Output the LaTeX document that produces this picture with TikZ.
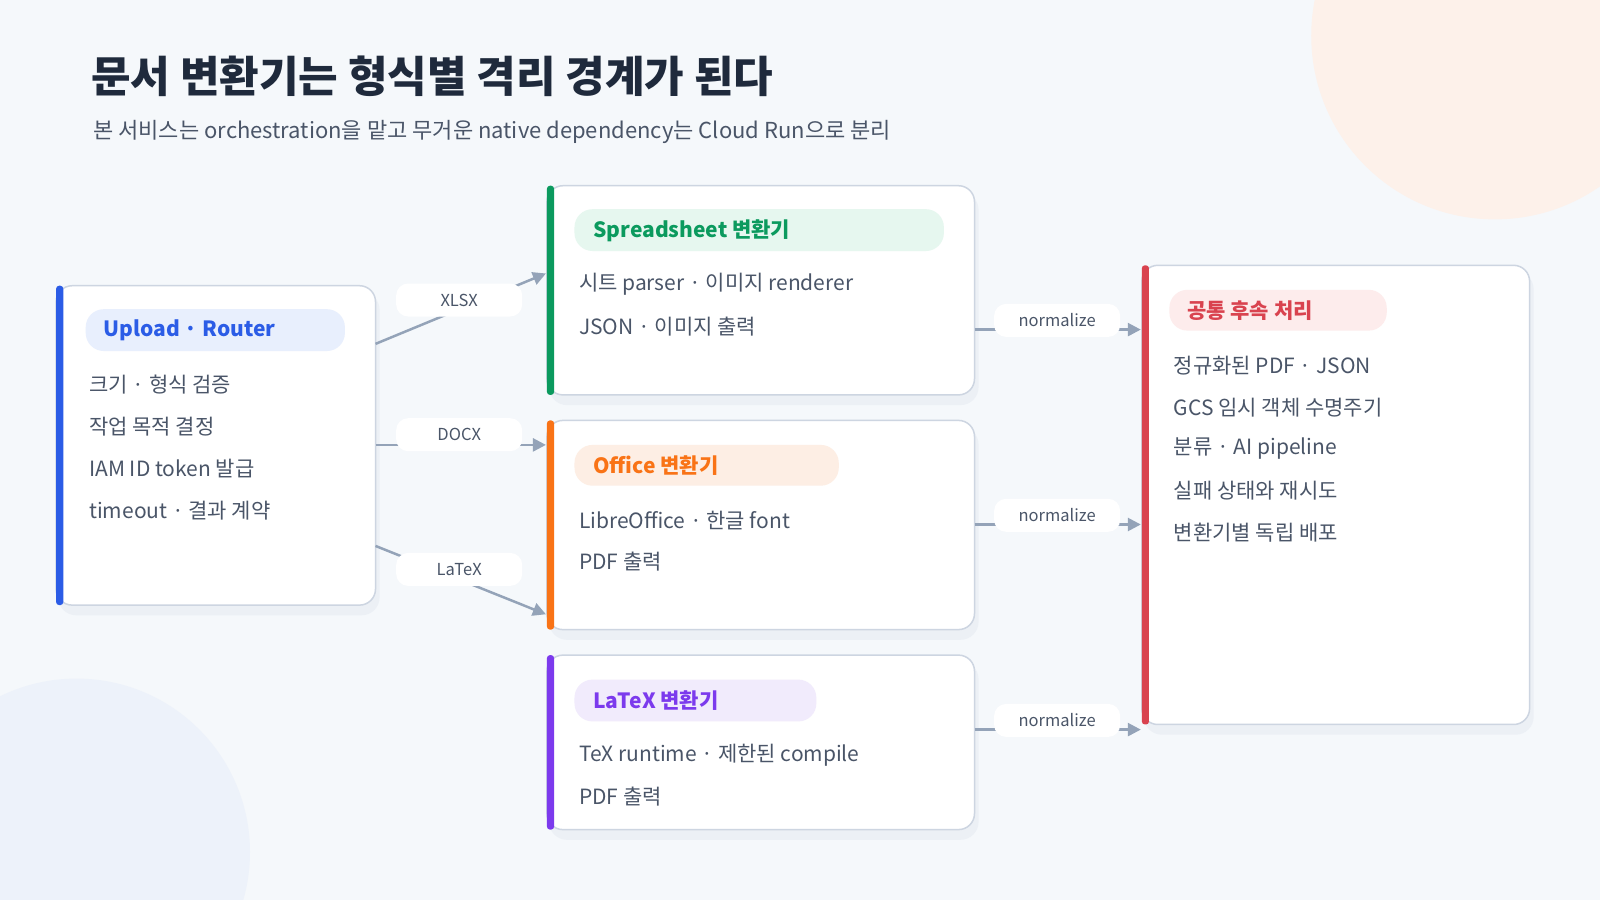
\documentclass[tikz,border=0pt]{standalone}
\usepackage{fontspec}
\setmainfont{Noto Sans CJK KR}
\usetikzlibrary{arrows.meta,calc}
\definecolor{bg}{HTML}{F5F8FB}
\definecolor{ink}{HTML}{1F2A3C}
\definecolor{txt}{HTML}{4A5568}
\definecolor{bd}{HTML}{CDD5E1}
\definecolor{conn}{HTML}{94A3B8}
\definecolor{shd}{HTML}{E6EBF2}
\definecolor{cblue}{HTML}{2B5CE6}\definecolor{pblue}{HTML}{E8EFFD}
\definecolor{cgreen}{HTML}{0B9A5E}\definecolor{pgreen}{HTML}{E6F7EF}
\definecolor{corange}{HTML}{F97316}\definecolor{porange}{HTML}{FDEEE4}
\definecolor{cpurple}{HTML}{7C3AED}\definecolor{ppurple}{HTML}{F1EBFC}
\definecolor{cred}{HTML}{D9434F}\definecolor{pred}{HTML}{FDECEC}
\definecolor{peach}{HTML}{FDF1EA}\definecolor{lblue}{HTML}{EDF2FA}
\tikzset{
 box/.style={draw=bd,line width=1.5pt,fill=white,rounded corners=16pt,inner sep=0},
 shadow/.style={fill=shd,rounded corners=18pt,opacity=0.6},
 ptxt/.style={anchor=west,font=\fontsize{21}{25}\selectfont\bfseries},
 item/.style={anchor=west,text=txt,font=\fontsize{21}{25}\selectfont},
 lab/.style={fill=white,rounded corners=12pt,minimum width=126pt,minimum height=33pt,text=txt,font=\fontsize{16.5}{20}\selectfont},
 conn/.style={draw=conn,line width=2.5pt,-{Triangle[length=13pt,width=13pt]}}
}
\begin{document}
\begin{tikzpicture}[x=1.0204pt,y=-1.0204pt]
\useasboundingbox (0,0) rectangle (1568,882);
\fill[bg] (0,0) rectangle (1568,882);
\begin{scope}
\clip (0,0) rectangle (1568,882);
\fill[peach] (1465,35) circle (180);
\fill[lblue] (75,835) circle (170);
\end{scope}
\node[anchor=west,text=ink,font=\fontsize{43}{50}\selectfont\bfseries] (title) at (86,75) {문서 변환기는 형식별 격리 경계가 된다};
\node[anchor=west,text=txt,font=\fontsize{22}{26}\selectfont] (sub) at (88,129) {본 서비스는 orchestration을 맡고 무거운 native dependency는 Cloud Run으로 분리};
% shadows
\foreach \a/\b/\c/\d in {55/280/368/593,536/182/955/387,536/412/955/617,536/642/955/813,1119/260/1499/710}
  \fill[shadow] (\a+2,\b+6) rectangle (\c+4,\d+10);
% boxes
\path[box] (55,280) rectangle (368,593) node[midway] (L) {};
\path[box] (536,182) rectangle (955,387) node[midway] (S) {};
\path[box] (536,412) rectangle (955,617) node[midway] (O) {};
\path[box] (536,642) rectangle (955,813) node[midway] (X) {};
\path[box] (1119,260) rectangle (1499,710) node[midway] (R) {};
\fill[cblue,rounded corners=3pt] (55,280) rectangle (62,593);
\fill[cgreen,rounded corners=3pt] (536,182) rectangle (543,387);
\fill[corange,rounded corners=3pt] (536,412) rectangle (543,617);
\fill[cpurple,rounded corners=3pt] (536,642) rectangle (543,813);
\fill[cred,rounded corners=3pt] (1119,260) rectangle (1126,710);
% pills
\fill[pblue,rounded corners=18pt] (84,303) rectangle (338,344);
\node[ptxt,text=cblue] (lh) at (98,324) {Upload · Router};
\fill[pgreen,rounded corners=18pt] (563,205) rectangle (925,246);
\node[ptxt,text=cgreen] (sh) at (578,226) {Spreadsheet 변환기};
\fill[porange,rounded corners=18pt] (563,436) rectangle (822,476);
\node[ptxt,text=corange] (oh) at (578,456) {Office 변환기};
\fill[ppurple,rounded corners=18pt] (563,666) rectangle (800,707);
\node[ptxt,text=cpurple] (xh) at (578,687) {LaTeX 변환기};
\fill[pred,rounded corners=18pt] (1146,284) rectangle (1359,324);
\node[ptxt,text=cred] (rh) at (1160,304) {공통 후속 처리};
% items
\node[item] (l1) at (84,377) {크기 · 형식 검증};
\node[item] (l2) at (84,418) {작업 목적 결정};
\node[item] (l3) at (84,459) {IAM ID token 발급};
\node[item] (l4) at (84,500) {timeout · 결과 계약};
\node[item] (s1) at (564,279) {시트 parser · 이미지 renderer};
\node[item] (s2) at (564,320) {JSON · 이미지 출력};
\node[item] (o1) at (564,510) {LibreOffice · 한글 font};
\node[item] (o2) at (564,550) {PDF 출력};
\node[item] (x1) at (564,740) {TeX runtime · 제한된 compile};
\node[item] (x2) at (564,781) {PDF 출력};
\node[item] (r1) at (1147,358) {정규화된 PDF · JSON};
\node[item] (r2) at (1147,399) {GCS 임시 객체 수명주기};
\node[item] (r3) at (1147,440) {분류 · AI pipeline};
\node[item] (r4) at (1147,481) {실패 상태와 재시도};
\node[item] (r5) at (1147,522) {변환기별 독립 배포};
% connector end points
\coordinate (la) at (368,337); \coordinate (sa) at (535,268);
\coordinate (lb) at (368,436); \coordinate (ob) at (535,436);
\coordinate (lc) at (368,535); \coordinate (xc) at (535,602);
\coordinate (s2r) at (955,323); \coordinate (r2s) at (1118,323);
\coordinate (o2r) at (955,514); \coordinate (r2o) at (1118,514);
\coordinate (x2r) at (955,715); \coordinate (r2x) at (1118,715);
\draw[conn] (la) -- (sa);
\draw[conn] (lb) -- (ob);
\draw[conn] (lc) -- (xc);
\draw[conn] (s2r) -- (r2s);
\draw[conn] (o2r) -- (r2o);
\draw[conn] (x2r) -- (r2x);
\node[lab] (k1) at (450,294) {XLSX};
\node[lab] (k2) at (450,426) {DOCX};
\node[lab] (k3) at (450,558) {LaTeX};
\node[lab] (n1) at (1036,314) {normalize};
\node[lab] (n2) at (1036,505) {normalize};
\node[lab] (n3) at (1036,706) {normalize};
\end{tikzpicture}
\end{document}
